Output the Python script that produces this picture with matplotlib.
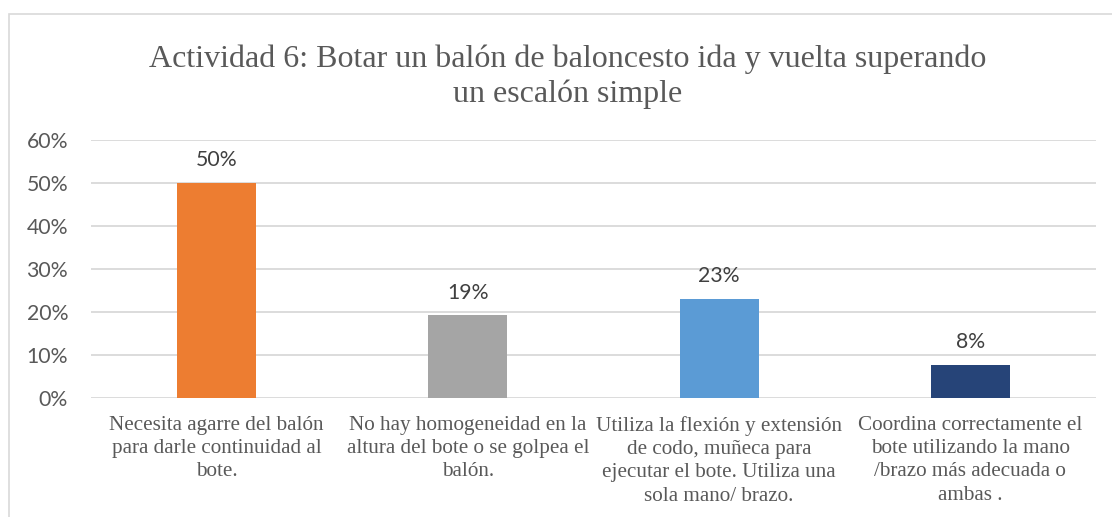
import matplotlib
matplotlib.use("Agg")
import matplotlib.pyplot as plt
from matplotlib.patches import Rectangle
from matplotlib.ticker import PercentFormatter

title = "Actividad 6: Botar un balón de baloncesto ida y vuelta superando\nun escalón simple"
categories = [
    "Necesita agarre del balón\npara darle continuidad al\nbote.",
    "No hay homogeneidad en la\naltura del bote o se golpea el\nbalón.",
    "Utiliza la flexión y extensión\nde codo, muñeca para\nejecutar el bote. Utiliza una\nsola mano/ brazo.",
    "Coordina correctamente el\nbote utilizando la mano\n/brazo más adecuada o\nambas .",
]
values = [0.50, 0.192, 0.231, 0.077]
labels = ["50%", "19%", "23%", "8%"]
colors = ["#ED7D31", "#A5A5A5", "#5B9BD5", "#264478"]
yticks = [0, 0.1, 0.2, 0.3, 0.4, 0.5, 0.6]

W, H = 1112, 517
fig = plt.figure(figsize=(W / 100, H / 100), dpi=100)
fig.patch.set_facecolor("white")

# chart frame
fig.patches.append(Rectangle((9 / W, -0.1), 1.2, (H - 14) / H + 0.1,
                             transform=fig.transFigure, fill=False,
                             edgecolor="#D9D9D9", linewidth=1.2))

ax = fig.add_axes([91 / W, (H - 398) / H, (1096 - 91) / W, (398 - 140) / H])
x = range(len(categories))
bars = ax.bar(x, values, width=0.315, color=colors, zorder=3)
ax.set_xlim(-0.5, len(categories) - 0.5)
ax.set_ylim(0, 0.6)
ax.set_yticks(yticks)
ax.yaxis.set_major_formatter(PercentFormatter(1.0, decimals=0))
ax.grid(axis="y", color="#D9D9D9", linewidth=1.3, zorder=0)
for s in ax.spines.values():
    s.set_visible(False)
ax.tick_params(axis="y", length=0, pad=16.5, labelsize=15.3, labelcolor="#595959")
for t in ax.get_yticklabels():
    t.set_fontfamily("Lato")
ax.set_xticks(list(x))
ax.set_xticklabels(categories, fontfamily="Liberation Serif", fontsize=15.2,
                   color="#595959", linespacing=1.3)
ax.tick_params(axis="x", length=0, pad=13)

for b, lab in zip(bars, labels):
    ax.annotate(lab, (b.get_x() + b.get_width() / 2, b.get_height()),
                xytext=(0, 9), textcoords="offset points", ha="center",
                va="bottom", fontsize=15.3, fontfamily="Lato", color="#404040")

fig.text(568 / W, (H - 44) / H, title, ha="center", va="top",
         fontfamily="Liberation Serif", fontsize=23, color="#595959",
         linespacing=1.27)

fig.savefig("out.png", dpi=100)
